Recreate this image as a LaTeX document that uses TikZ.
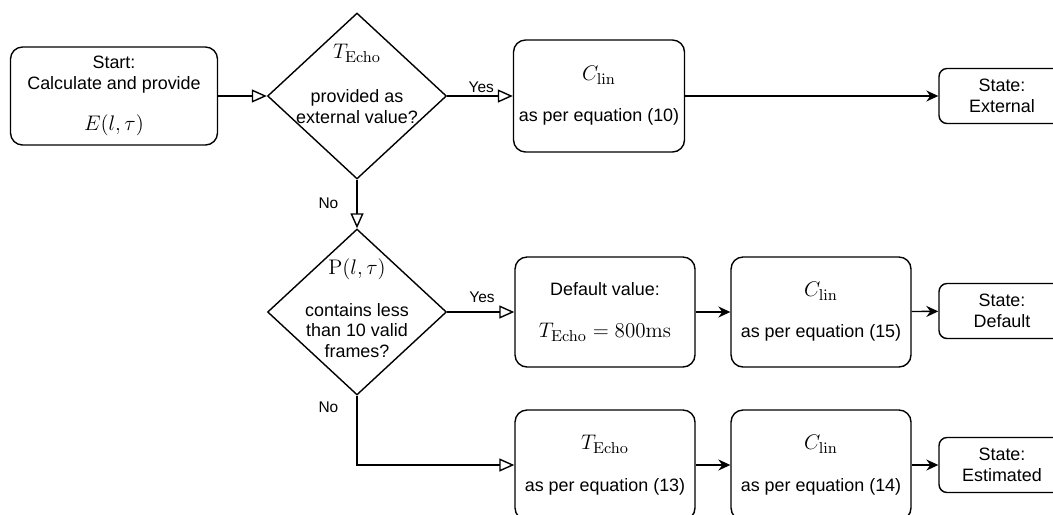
\documentclass[tikz,border=0pt]{standalone}
\usepackage[no-math]{fontspec}
\setmainfont{Liberation Sans}
\usepackage{amsmath}
\usetikzlibrary{shapes.geometric,arrows.meta}
\newcommand{\formula}[1]{{\fontsize{13}{14}\selectfont$#1$}}

\begin{document}
\begin{tikzpicture}[x=0.02cm,y=-0.02cm,line width=0.8pt]
\tikzstyle{every node}+=[inner sep=0pt, align=center, font=\fontsize{10.2}{11.8}\selectfont]
\tikzstyle{box}=[draw, rounded corners=0.24cm, minimum width=3.6cm, minimum height=2.2cm]
\tikzstyle{statebox}=[draw, rounded corners=0.16cm, minimum width=2.52cm, minimum height=1.1cm]
\tikzstyle{decision}=[draw, diamond, minimum width=3.58cm, minimum height=3.32cm]
\tikzstyle{lbl}=[font=\fontsize{8.8}{10}\selectfont]
\tikzstyle{branch}=[-{Triangle[open,length=0.3cm,width=0.26cm]}]
\tikzstyle{flow}=[-{Stealth[length=0.24cm,width=0.22cm,inset=0.08cm]}]
\clip (0,0) rectangle (1053,514);
% top row
\node [box, minimum width=4.14cm, minimum height=1.96cm] (start) at (114,96) {Start:\\Calculate and provide\\[11.5pt]\formula{E(l,\tau)}};
\node [decision, label={[yshift=0.24cm]center:{\formula{T_{\mathrm{Echo}}}\\[13pt]provided as\\external value?}}] (ext) at (357,96) {};
\node [box, minimum width=3.42cm, minimum height=2.24cm] (clin1) at (599,96) {\formula{C_{\mathrm{lin}}}\\[11.5pt]as per equation (10)};
\node [statebox] (st1) at (1002,96) {State:\\External};
% middle row
\node [decision, label={[yshift=0.08cm]center:{\formula{\mathrm{P}(l,\tau)}\\[12pt]contains less\\than 10 valid\\frames?}}] (chk) at (357,312) {};
\node [box] (def) at (605,312) {Default value:\\[12pt]\formula{T_{\mathrm{Echo}}=800\mathrm{ms}}};
\node [box] (clin2) at (821,312) {\formula{C_{\mathrm{lin}}}\\[11.5pt]as per equation (15)};
\node [statebox] (st2) at (1002,311) {State:\\Default};
% bottom row
\node [box] (tcho) at (605,465) {\formula{T_{\mathrm{Echo}}}\\[12pt]as per equation (13)};
\node [box] (clin3) at (821,465) {\formula{C_{\mathrm{lin}}}\\[12pt]as per equation (14)};
\node [statebox] (st3) at (1002,465) {State:\\Estimated};
% connectors
\draw [branch] (start) -- (ext);
\draw [branch] (ext) -- node [lbl, above=1.5pt, pos=0.52] (yes1) {Yes} (clin1);
\draw [flow] (clin1) -- (st1);
\draw [branch] (ext) -- node [lbl, left=0.36cm, pos=0.48] (no1) {No} (chk);
\draw [branch] (chk) -- node [lbl, above=5pt, pos=0.52] (yes2) {Yes} (def);
\draw [flow] (def) -- (clin2);
\draw [flow] (clin2) -- (st2);
\draw [branch] (chk) |- node [lbl, left=0.36cm, pos=0.085] (no2) {No} (tcho);
\draw [flow] (tcho) -- (clin3);
\draw [flow] (clin3) -- (st3);
\end{tikzpicture}
\end{document}
